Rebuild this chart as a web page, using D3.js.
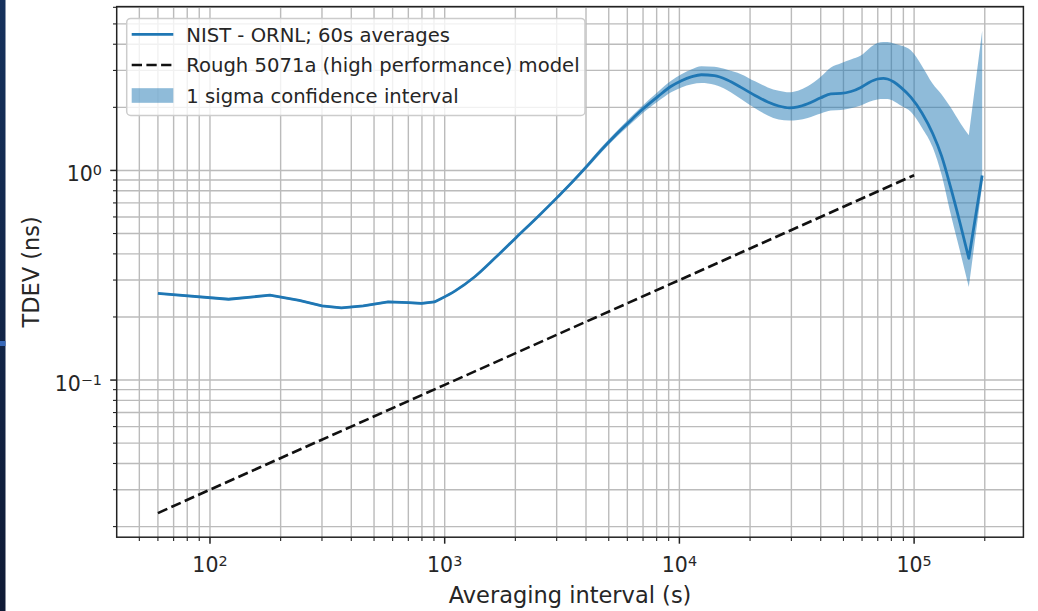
<!DOCTYPE html>
<html>
<head>
<meta charset="utf-8">
<script src="https://cdn.jsdelivr.net/npm/d3@7"></script>
<style>
  html, body { margin: 0; padding: 0; background: #fff; }
  svg { display: block; }
  text { font-family: "DejaVu Sans", sans-serif; fill: #262626; }
</style>
</head>
<body>
<svg id="chart" width="1038" height="611"></svg>
<script>
// Averaging interval tau (s) and measured TDEV (ns) with 1-sigma bounds
const tau = [60, 120, 180, 240, 300, 363, 450, 574, 700, 796, 904, 968, 1100, 1343, 1650, 2018, 2500, 3040, 3500, 4010, 4640, 5300, 6030, 6870, 8090, 9220, 10200, 11300, 12400, 14100, 16000, 18300, 21000, 23800, 26500, 29400, 32000, 35200, 40000, 44200, 48800, 53800, 59300, 64000, 69800, 74000, 77000, 82000, 87800, 97000, 108000, 120000, 131000, 143000, 157000, 171000, 195000];
const tdev = [0.259, 0.243, 0.254, 0.240, 0.226, 0.221, 0.226, 0.236, 0.234, 0.232, 0.236, 0.245, 0.265, 0.311, 0.385, 0.479, 0.603, 0.750, 0.882, 1.04, 1.25, 1.46, 1.68, 1.93, 2.25, 2.52, 2.68, 2.80, 2.86, 2.83, 2.70, 2.49, 2.28, 2.12, 2.03, 1.99, 2.01, 2.08, 2.22, 2.32, 2.33, 2.38, 2.49, 2.62, 2.73, 2.75, 2.73, 2.64, 2.49, 2.23, 1.88, 1.50, 1.17, 0.833, 0.56, 0.381, 0.946];
const tdevLo = [0.256, 0.240, 0.251, 0.237, 0.223, 0.218, 0.223, 0.233, 0.231, 0.229, 0.233, 0.242, 0.262, 0.307, 0.380, 0.472, 0.594, 0.737, 0.864, 1.015, 1.215, 1.415, 1.62, 1.85, 2.13, 2.36, 2.49, 2.58, 2.61, 2.56, 2.41, 2.19, 1.98, 1.83, 1.75, 1.73, 1.74, 1.78, 1.87, 1.93, 1.94, 1.98, 2.04, 2.12, 2.18, 2.19, 2.19, 2.14, 2.04, 1.90, 1.60, 1.29, 0.95, 0.623, 0.41, 0.278, 0.85];
const tdevHi = [0.262, 0.246, 0.257, 0.243, 0.229, 0.224, 0.229, 0.239, 0.237, 0.235, 0.239, 0.248, 0.268, 0.315, 0.390, 0.486, 0.612, 0.763, 0.900, 1.065, 1.285, 1.505, 1.74, 2.01, 2.37, 2.68, 2.88, 3.04, 3.14, 3.12, 3.02, 2.88, 2.66, 2.49, 2.40, 2.36, 2.40, 2.52, 2.80, 3.10, 3.25, 3.38, 3.53, 3.80, 4.05, 4.10, 4.10, 4.03, 3.94, 3.73, 3.15, 2.59, 2.30, 2.00, 1.69, 1.47, 4.64];

// Rough 5071a (high performance) model
const modelTau = [60, 100, 1000, 10000, 100000];
const modelTdev = [0.0232, 0.030, 0.0949, 0.300, 0.949];

const legendLabels = ["NIST - ORNL; 60s averages", "Rough 5071a (high performance) model", "1 sigma confidence interval"];
const xTickExp = [2, 3, 4, 5];
const yTickExp = [-1, 0];
const xLabel = "Averaging interval (s)";
const yLabel = "TDEV (ns)";

const svg = d3.select("#chart");
const W = 1038, H = 611;
const m = { left: 116.7, right: 1023.4, top: 6.6, bottom: 537.2 };

// side strip
const grad = svg.append("defs").append("linearGradient")
  .attr("id", "strip").attr("x1", 0).attr("y1", 0).attr("x2", 0).attr("y2", 1);
grad.append("stop").attr("offset", "0%").attr("stop-color", "#15315c");
grad.append("stop").attr("offset", "100%").attr("stop-color", "#0f1a35");
svg.append("rect").attr("x", 0).attr("y", 0).attr("width", 5.5).attr("height", H).attr("fill", "url(#strip)");
svg.append("rect").attr("x", 0).attr("y", 341).attr("width", 5.5).attr("height", 5).attr("fill", "#3768b8");

// log-log scales with 5% padding in log space
function padded(lo, hi) {
  const a = Math.log10(lo), b = Math.log10(hi), p = (b - a) * 0.05;
  return [Math.pow(10, a - p), Math.pow(10, b + p)];
}
const xAll = tau.concat(modelTau);
const yAll = tdevLo.concat(tdevHi, modelTdev);
const x = d3.scaleLog().domain(padded(d3.min(xAll), d3.max(xAll))).range([m.left, m.right]);
const y = d3.scaleLog().domain(padded(d3.min(yAll), d3.max(yAll))).range([m.bottom, m.top]);

function logTicks(scale) {
  const [d0, d1] = scale.domain();
  const out = [];
  for (let e = Math.floor(Math.log10(d0)); e <= Math.ceil(Math.log10(d1)); e++) {
    for (let k = 2; k <= 9; k++) {
      const v = k * Math.pow(10, e);
      if (v >= d0 && v <= d1) out.push(v);
    }
  }
  return out;
}
const xMajor = xTickExp.map(e => Math.pow(10, e));
const yMajor = yTickExp.map(e => Math.pow(10, e));
const xMinor = logTicks(x);
const yMinor = logTicks(y);

// grid (major + minor)
const grid = svg.append("g").attr("stroke", "#b0b0b0").attr("stroke-width", 1.4).attr("opacity", 0.85);
xMajor.concat(xMinor).forEach(v => {
  grid.append("line").attr("x1", x(v)).attr("x2", x(v)).attr("y1", m.top).attr("y2", m.bottom);
});
yMajor.concat(yMinor).forEach(v => {
  grid.append("line").attr("y1", y(v)).attr("y2", y(v)).attr("x1", m.left).attr("x2", m.right);
});

// Piecewise path: straight segments over the short-tau points, a smooth
// monotone curve through the dense mid range, and a straight last segment.
const iKnee = tau.indexOf(968), iMin = tau.indexOf(171000), iEnd = tau.length - 1;
function piecewise(vals, reverse) {
  const pieces = [
    { a: 0, b: iKnee, curve: d3.curveLinear },
    { a: iKnee, b: iMin, curve: d3.curveMonotoneX },
    { a: iMin, b: iEnd, curve: d3.curveLinear }
  ];
  if (reverse) pieces.reverse();
  let d = "";
  pieces.forEach((p, k) => {
    let ids = d3.range(p.a, p.b + 1);
    if (reverse) ids = ids.reverse();
    const seg = d3.line().curve(p.curve).x(i => x(tau[i])).y(i => y(vals[i]))(ids);
    d += (k === 0 && !reverse) ? seg : "L" + seg.slice(1);
  });
  return d;
}

// confidence band
svg.append("path")
  .attr("fill", "#1f77b4").attr("fill-opacity", 0.5)
  .attr("d", piecewise(tdevHi, false) + piecewise(tdevLo, true) + "Z");

// measured TDEV
svg.append("path")
  .attr("fill", "none").attr("stroke", "#1f77b4").attr("stroke-width", 2.8)
  .attr("stroke-linejoin", "round")
  .attr("d", piecewise(tdev, false));

// model line
svg.append("path")
  .datum(d3.range(modelTau.length))
  .attr("fill", "none").attr("stroke", "#111").attr("stroke-width", 2.6)
  .attr("stroke-dasharray", "10.3,4.4")
  .attr("d", d3.line().x(i => x(modelTau[i])).y(i => y(modelTdev[i])));

// spines
svg.append("rect")
  .attr("x", m.left).attr("y", m.top)
  .attr("width", m.right - m.left).attr("height", m.bottom - m.top)
  .attr("fill", "none").attr("stroke", "#222").attr("stroke-width", 1.5);

// ticks
const ticks = svg.append("g").attr("stroke", "#222");
xMajor.forEach(v => ticks.append("line").attr("x1", x(v)).attr("x2", x(v)).attr("y1", m.bottom).attr("y2", m.bottom + 6.5).attr("stroke-width", 1.5));
xMinor.forEach(v => ticks.append("line").attr("x1", x(v)).attr("x2", x(v)).attr("y1", m.bottom).attr("y2", m.bottom + 3.7).attr("stroke-width", 1.1));
yMajor.forEach(v => ticks.append("line").attr("y1", y(v)).attr("y2", y(v)).attr("x1", m.left).attr("x2", m.left - 6.5).attr("stroke-width", 1.5));
yMinor.forEach(v => ticks.append("line").attr("y1", y(v)).attr("y2", y(v)).attr("x1", m.left).attr("x2", m.left - 3.7).attr("stroke-width", 1.1));

const tickFont = 20.5;
function powerLabel(sel, e) {
  sel.text("10");
  sel.append("tspan").attr("dy", "-0.42em").attr("font-size", "70%")
    .text(e < 0 ? "\u2212" + Math.abs(e) : String(e));
}
xTickExp.forEach(e => {
  const t = svg.append("text").attr("x", x(Math.pow(10, e))).attr("y", 571.7)
    .attr("text-anchor", "middle").attr("font-size", tickFont);
  powerLabel(t, e);
});
yTickExp.forEach(e => {
  const t = svg.append("text").attr("x", 102).attr("y", y(Math.pow(10, e)) + 10.7)
    .attr("text-anchor", "end").attr("font-size", tickFont);
  powerLabel(t, e);
});

// axis labels
svg.append("text").attr("x", (m.left + m.right) / 2).attr("y", 602.5)
  .attr("text-anchor", "middle").attr("font-size", 22.5).text(xLabel);
svg.append("text").attr("transform", `translate(39.3,${(m.top + m.bottom) / 2}) rotate(-90)`)
  .attr("text-anchor", "middle").attr("font-size", 22.5).text(yLabel);

// legend
const lg = svg.append("g");
lg.append("rect").attr("x", 126.7).attr("y", 18.4).attr("width", 458.3).attr("height", 97)
  .attr("rx", 4).attr("fill", "#fff").attr("fill-opacity", 0.8)
  .attr("stroke", "#cccccc").attr("stroke-width", 1.5);
const rowY = [34.3, 65, 95.5];
lg.append("line").attr("x1", 131.7).attr("x2", 173.3).attr("y1", rowY[0]).attr("y2", rowY[0])
  .attr("stroke", "#1f77b4").attr("stroke-width", 2.8);
lg.append("line").attr("x1", 131.7).attr("x2", 173.3).attr("y1", rowY[1]).attr("y2", rowY[1])
  .attr("stroke", "#111").attr("stroke-width", 2.6).attr("stroke-dasharray", "10.3,4.4");
lg.append("rect").attr("x", 131.7).attr("y", rowY[2] - 7.3).attr("width", 41.6).attr("height", 14.6)
  .attr("fill", "#1f77b4").attr("fill-opacity", 0.5);
legendLabels.forEach((s, i) => {
  lg.append("text").attr("x", 186.3).attr("y", rowY[i] + 7.4).attr("font-size", 19.6).text(s);
});
</script>
</body>
</html>
